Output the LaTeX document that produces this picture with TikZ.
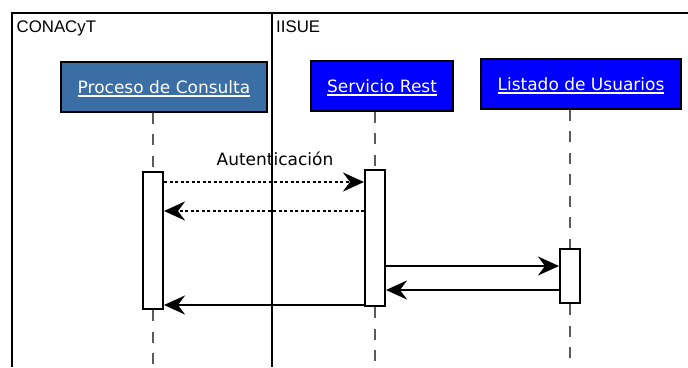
\documentclass[tikz,border=0pt]{standalone}
\usepackage{fontspec}
\usetikzlibrary{arrows.meta}
\newfontfamily\lblfont{DejaVu Sans}
\newfontfamily\regionfont{Liberation Sans}
\definecolor{steelhdr}{RGB}{58,110,165}
\definecolor{purehdr}{RGB}{0,0,255}
\definecolor{lifegray}{RGB}{90,90,90}
% underlined link-style caption
\newcommand\linktext[1]{\setbox0\hbox{#1}\rlap{\smash{\rule[-3.4pt]{\wd0}{1.3pt}}}\box0}
\tikzset{
  frameline/.style={line width=2.5pt, black},
  regionlbl/.style={anchor=base west, inner sep=0pt, font=\regionfont\fontsize{16.8}{20}\selectfont},
  hdr/.style={draw=black, line width=1.8pt, minimum height=50pt, inner sep=0pt,
              text=white, font=\lblfont\fontsize{17}{20}\selectfont},
  actbox/.style={draw=black, fill=white, line width=2pt, minimum width=20pt, inner sep=0pt},
  lifeline/.style={draw=lifegray, line width=1.6pt, dash pattern=on 11pt off 10.5pt},
  msg/.style={line width=2.2pt, -{Stealth[length=21pt, width=19pt, inset=7pt]}},
  dottedmsg/.style={msg, dash pattern=on 3pt off 2.5pt},
  msglbl/.style={inner sep=0pt, font=\lblfont\fontsize{17}{20}\selectfont},
}
\begin{document}
\begin{tikzpicture}[x=1pt, y=-1pt]
  \useasboundingbox (0,0) rectangle (688,367);

  % swimlane frame
  \coordinate (ftl) at (12,13);
  \coordinate (ftr) at (688,13);
  \coordinate (fbl) at (12,367);
  \coordinate (dtop) at (272,13);
  \coordinate (dbot) at (272,367);
  \draw[frameline] (ftr) -- (ftl) -- (fbl);
  \draw[frameline] (dtop) -- (dbot);
  \node[regionlbl] (conacyt) at (16.5,32) {CONACyT};
  \node[regionlbl] (iisue) at (276,32) {IISUE};

  % participants
  \node[hdr, fill=steelhdr, minimum width=206pt] (proc) at (164,87) {\linktext{Proceso de Consulta}};
  \node[hdr, fill=purehdr, minimum width=142pt] (serv) at (382,86) {\linktext{Servicio Rest}};
  \node[hdr, fill=purehdr, minimum width=200pt] (list) at (581,84) {\linktext{Listado de Usuarios}};

  % activation bars
  \node[actbox, minimum height=137pt] (pact) at (153,240.5) {};
  \node[actbox, minimum height=136pt] (sact) at (375,238) {};
  \node[actbox, minimum height=54pt] (lact) at (570,276) {};

  % lifelines
  \coordinate (bottom) at (0,367);
  \draw[lifeline] (proc.south -| pact) -- (pact.north);
  \draw[lifeline] (pact.south) -- (bottom -| pact);
  \draw[lifeline] (serv.south -| sact) -- (sact.north);
  \draw[lifeline] (sact.south) -- (bottom -| sact);
  \draw[lifeline] (list.south -| lact) -- (lact.north);
  \draw[lifeline] (lact.south) -- (bottom -| lact);

  % message levels
  \coordinate (m1) at (0,182);
  \coordinate (m2) at (0,211);
  \coordinate (m3) at (0,266);
  \coordinate (m4) at (0,290);
  \coordinate (m5) at (0,305);

  % messages
  \draw[dottedmsg] (pact.east |- m1) -- node[msglbl, midway, above=15pt, xshift=11pt] (auth) {Autenticación} (sact.west |- m1);
  \draw[dottedmsg] (sact.west |- m2) -- (pact.east |- m2);
  \draw[msg] (sact.east |- m3) -- (lact.west |- m3);
  \draw[msg] (lact.west |- m4) -- (sact.east |- m4);
  \draw[msg] (sact.west |- m5) -- (pact.east |- m5);
\end{tikzpicture}
\end{document}
